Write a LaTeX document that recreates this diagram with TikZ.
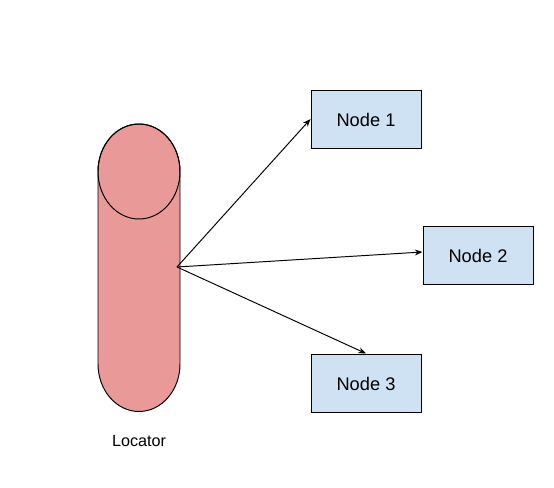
\documentclass[tikz,border=0pt]{standalone}
\usepackage{fontspec}
\setmainfont{Liberation Sans}
\usetikzlibrary{arrows.meta}
\definecolor{nodeblue}{HTML}{CFE2F3}
\definecolor{locatorred}{HTML}{EA9999}
\tikzset{
    nodebox/.style={draw, line width=0.55pt, fill=nodeblue, minimum width=2.2cm, minimum height=1.16cm, text height=8.1pt, font=\fontsize{10.4}{12}\selectfont},
    link/.style={line width=0.55pt, -{Stealth[length=4.4pt, width=3.4pt]}}
}
\begin{document}
\begin{tikzpicture}
        \useasboundingbox (0,0) rectangle (11.08,9.76);

        \draw [line width=0.55pt, fill=locatorred] (1.96,6.33) -- (1.96,2.48) arc (180:360:0.82 and 0.95) -- (3.60,6.33) arc (0:180:0.82 and 0.95) -- cycle;
        \draw [line width=0.55pt] (2.78,6.33) ellipse (0.82 and 0.95);

        \coordinate (hub) at (3.54,4.42);
        \node (locator) [font=\fontsize{9.2}{11}\selectfont] at (2.78,0.94) {Locator};

        \node (node1) [nodebox] at (7.32,7.38) {Node 1};
        \node (node2) [nodebox] at (9.56,4.66) {Node 2};
        \node (node3) [nodebox] at (7.32,2.10) {Node 3};

        \draw [link] (hub) -- (node1.west);
        \draw [link] (hub) -- ([yshift=1.7pt]node2.west);
        \draw [link] (hub) -- (node3.north);
    \end{tikzpicture}
\end{document}
